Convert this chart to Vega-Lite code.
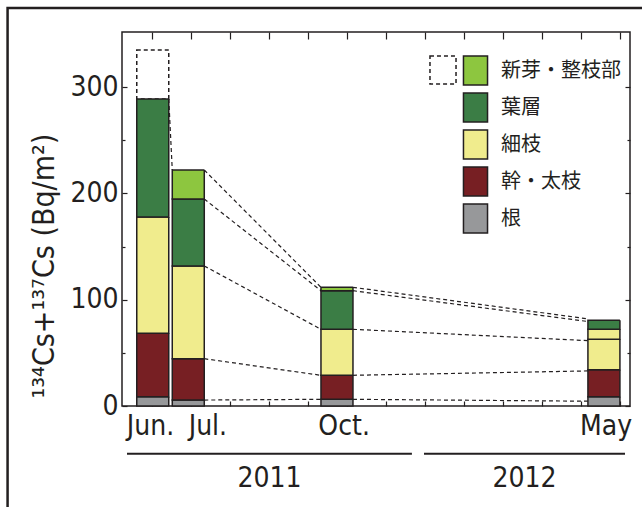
{
  "$schema": "https://vega.github.io/schema/vega-lite/v6.json",
  "width": 508,
  "height": 374,
  "autosize": {"type": "none"},
  "padding": {"left": 122, "top": 32, "right": 12, "bottom": 101},
  "background": "white",
  "config": {
    "view": {"stroke": "#231f20", "strokeWidth": 1.5},
    "axis": {
      "grid": false,
      "domain": false,
      "tickColor": "#231f20",
      "tickWidth": 1.2,
      "labelColor": "#231f20",
      "labelFont": "Liberation Sans Narrow, DejaVu Sans Condensed, Roboto Condensed, sans-serif",
      "labelFontSize": 28,
      "labelFlush": false,
      "labelOverlap": false,
      "titleColor": "#231f20",
      "titleFont": "Liberation Sans Narrow, DejaVu Sans Condensed, Roboto Condensed, sans-serif"
    },
    "text": {"font": "Liberation Sans Narrow, DejaVu Sans Condensed, Roboto Condensed, sans-serif"}
  },
  "resolve": {"axis": {"x": "independent", "y": "independent"}},
  "layer": [
    {
      "data": {
        "values": [
          {"when": "Jun.", "mo": 0.02, "part": "新芽・整枝部", "line": "dashed", "bq": 46.1},
          {"when": "Jun.", "mo": 0.02, "part": "根", "line": "solid", "bq": 8.7},
          {"when": "Jun.", "mo": 0.02, "part": "幹・太枝", "line": "solid", "bq": 59.7},
          {"when": "Jun.", "mo": 0.02, "part": "細枝", "line": "solid", "bq": 109.5},
          {"when": "Jun.", "mo": 0.02, "part": "葉層", "line": "solid", "bq": 111.0},
          {"when": "Jul.", "mo": 0.93, "part": "根", "line": "solid", "bq": 5.6},
          {"when": "Jul.", "mo": 0.93, "part": "幹・太枝", "line": "solid", "bq": 38.9},
          {"when": "Jul.", "mo": 0.93, "part": "細枝", "line": "solid", "bq": 87.3},
          {"when": "Jul.", "mo": 0.93, "part": "葉層", "line": "solid", "bq": 63.0},
          {"when": "Jul.", "mo": 0.93, "part": "新芽・整枝部", "line": "solid", "bq": 27.3},
          {"when": "Oct.", "mo": 4.74, "part": "根", "line": "solid", "bq": 6.3},
          {"when": "Oct.", "mo": 4.74, "part": "幹・太枝", "line": "solid", "bq": 22.6},
          {"when": "Oct.", "mo": 4.74, "part": "細枝", "line": "solid", "bq": 43.3},
          {"when": "Oct.", "mo": 4.74, "part": "葉層", "line": "solid", "bq": 36.3},
          {"when": "Oct.", "mo": 4.74, "part": "新芽・整枝部", "line": "solid", "bq": 3.2},
          {"when": "May", "mo": 11.58, "part": "根", "line": "solid", "bq": 8.7},
          {"when": "May", "mo": 11.58, "part": "幹・太枝", "line": "solid", "bq": 25.5},
          {"when": "May", "mo": 11.58, "part": "細枝", "line": "solid", "bq": 28.6},
          {"when": "May", "mo": 11.58, "part": "細枝", "line": "solid", "bq": 9.4},
          {"when": "May", "mo": 11.58, "part": "葉層", "line": "solid", "bq": 8.5}
        ]
      },
      "transform": [
        {"calculate": "indexof(['根', '幹・太枝', '細枝', '葉層', '新芽・整枝部'], datum.part)", "as": "rank"}
      ],
      "mark": {"type": "bar", "width": 32, "stroke": "#231f20", "strokeWidth": 1.5},
      "encoding": {
        "x": {
          "field": "mo",
          "type": "quantitative",
          "scale": {"domain": [-0.64, 12.12], "nice": false, "zero": false},
          "axis": {"orient": "bottom", "values": [0, 1, 2, 3, 4, 5, 6, 7, 8, 9, 10, 11, 12], "labels": false, "tickSize": -5, "title": null}
        },
        "y": {
          "field": "bq",
          "type": "quantitative",
          "stack": "zero",
          "scale": {"domain": [0, 352], "nice": false},
          "axis": {
            "orient": "left",
            "values": [0, 100, 200, 300],
            "tickSize": -5,
            "labelPadding": 9,
            "title": "¹³⁴Cs+¹³⁷Cs (Bq/m²)",
            "titleFontSize": 30,
            "titleFontWeight": "normal",
            "titleAngle": 270,
            "titleX": -63,
            "titleY": 366,
            "titleAlign": "left",
            "titleBaseline": "bottom"
          }
        },
        "order": {"field": "rank", "type": "quantitative"},
        "color": {
          "field": "part",
          "type": "nominal",
          "scale": {
            "domain": ["新芽・整枝部", "葉層", "細枝", "幹・太枝", "根"],
            "range": ["#8dc63f", "#3b7d45", "#f0ec8d", "#771f23", "#97989a"]
          },
          "condition": {"test": "datum.line === 'dashed'", "value": "white"},
          "legend": {
            "orient": "none",
            "legendX": 338,
            "legendY": 23,
            "title": null,
            "symbolType": "M-0.83,-1H0.83V1H-0.83Z",
            "symbolSize": 841,
            "symbolStrokeColor": "#231f20",
            "symbolStrokeWidth": 1.5,
            "symbolOpacity": 1,
            "labelFont": "Noto Sans CJK JP",
            "labelFontSize": 20,
            "labelOffset": 10,
            "labelColor": "#231f20",
            "labelLimit": 300,
            "rowPadding": 2,
            "padding": 0
          }
        },
        "strokeDash": {
          "field": "line",
          "type": "nominal",
          "scale": {"domain": ["dashed", "solid"], "range": [[4, 3], [1, 0]]},
          "legend": {
            "orient": "none",
            "legendX": 306,
            "legendY": 23,
            "title": null,
            "values": ["dashed"],
            "labelExpr": "''",
            "symbolType": "M-0.93,-1H0.93V1H-0.93Z",
            "symbolSize": 784,
            "padding": 0,
            "encode": {
              "symbols": {
                "update": {
                  "fill": {"value": "white"},
                  "stroke": {"value": "#231f20"},
                  "strokeWidth": {"value": 1.2},
                  "strokeDash": {"value": [4, 3]},
                  "opacity": {"value": 1}
                }
              }
            }
          }
        }
      }
    },
    {
      "data": {
        "values": [
          {"from": 0.02, "to": 0.93, "top0": 288.9, "top1": 222.1},
          {"from": 0.93, "to": 4.74, "top0": 222.1, "top1": 111.7},
          {"from": 0.93, "to": 4.74, "top0": 194.8, "top1": 108.5},
          {"from": 0.93, "to": 4.74, "top0": 131.8, "top1": 72.2},
          {"from": 0.93, "to": 4.74, "top0": 44.5, "top1": 28.9},
          {"from": 0.93, "to": 4.74, "top0": 5.6, "top1": 6.3},
          {"from": 4.74, "to": 11.58, "top0": 111.7, "top1": 82.0},
          {"from": 4.74, "to": 11.58, "top0": 108.5, "top1": 79.5},
          {"from": 4.74, "to": 11.58, "top0": 72.2, "top1": 61.5},
          {"from": 4.74, "to": 11.58, "top0": 28.9, "top1": 33.0},
          {"from": 4.74, "to": 11.58, "top0": 6.3, "top1": 4.5}
        ]
      },
      "mark": {"type": "rule", "strokeDash": [4, 3], "strokeWidth": 1.2, "color": "#231f20", "xOffset": 16, "x2Offset": -16},
      "encoding": {
        "x": {
          "field": "from",
          "type": "quantitative",
          "scale": {"domain": [-0.64, 12.12], "nice": false, "zero": false},
          "axis": {"orient": "top", "values": [0, 1, 2, 3, 4, 5, 6, 7, 8, 9, 10, 11, 12], "labels": false, "tickSize": -7, "title": null}
        },
        "x2": {"field": "to"},
        "y": {
          "field": "top0",
          "type": "quantitative",
          "scale": {"domain": [0, 352], "nice": false},
          "axis": {"orient": "right", "values": [0, 100, 200, 300], "labels": false, "tickSize": -5, "title": null}
        },
        "y2": {"field": "top1"}
      }
    },
    {
      "data": {
        "values": [
          {"year": "2011", "from": -0.64, "to": 6.66},
          {"year": "2012", "from": 6.97, "to": 12.12}
        ]
      },
      "mark": {"type": "rule", "strokeWidth": 2, "color": "#231f20"},
      "encoding": {
        "x": {
          "field": "from",
          "type": "quantitative",
          "scale": {"domain": [-0.64, 12.12], "nice": false, "zero": false},
          "axis": {
            "orient": "bottom",
            "values": [-0.05, 1.42, 4.91, 11.62],
            "labelExpr": "datum.value < 0.5 ? 'Jun.' : datum.value < 2 ? 'Jul.' : datum.value < 6 ? 'Oct.' : 'May'",
            "ticks": false,
            "labelPadding": 6,
            "title": null
          }
        },
        "x2": {"field": "to"},
        "y": {
          "datum": -45,
          "type": "quantitative",
          "scale": {"domain": [0, 352], "nice": false},
          "axis": {"orient": "left", "values": [50, 150, 250], "labels": false, "tickSize": -3, "title": null}
        }
      }
    },
    {
      "data": {
        "values": [
          {"year": "2011", "from": -0.64, "to": 6.66},
          {"year": "2012", "from": 6.97, "to": 12.12}
        ]
      },
      "transform": [{"calculate": "(datum.from + datum.to) / 2", "as": "mid"}],
      "mark": {"type": "text", "fontSize": 28, "color": "#231f20", "baseline": "middle"},
      "encoding": {
        "x": {
          "field": "mid",
          "type": "quantitative",
          "scale": {"domain": [-0.64, 12.12], "nice": false, "zero": false},
          "axis": null
        },
        "y": {
          "datum": -68.5,
          "type": "quantitative",
          "scale": {"domain": [0, 352], "nice": false},
          "axis": {"orient": "right", "values": [50, 150, 250], "labels": false, "tickSize": -3, "title": null}
        },
        "text": {"field": "year"}
      }
    },
    {
      "data": {"values": [{"frame": "figure"}]},
      "mark": {"type": "rect", "filled": false, "color": "#231f20", "strokeWidth": 2.5},
      "encoding": {
        "x": {"datum": -3.7, "type": "quantitative", "scale": {"domain": [-0.64, 12.12], "nice": false, "zero": false}, "axis": null},
        "x2": {"datum": 20},
        "y": {"datum": 374.6, "type": "quantitative", "scale": {"domain": [0, 352], "nice": false}, "axis": null},
        "y2": {"datum": -200}
      }
    }
  ]
}
